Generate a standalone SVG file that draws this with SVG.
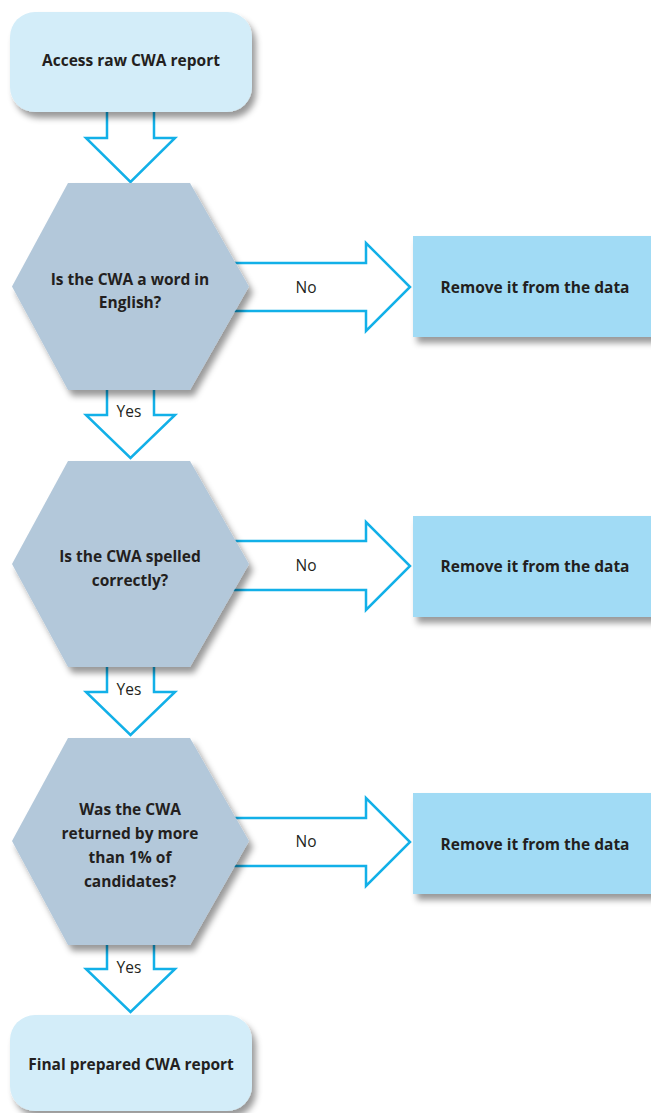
<svg xmlns="http://www.w3.org/2000/svg" width="651" height="1113" viewBox="0 0 651 1113">
<defs>
<filter id="sh" x="-10%" y="-10%" width="130%" height="130%">
<feDropShadow dx="4" dy="6" stdDeviation="3" flood-color="#000" flood-opacity="0.4"/>
</filter>
<style>
.arr{fill:#fff;stroke:#12b0e8;stroke-width:2.5;stroke-linejoin:miter}
.start{fill:#d3edf9;filter:url(#sh)}
.hex{fill:#b3c8da;filter:url(#sh)}
.rem{fill:#a1dbf5;filter:url(#sh)}
.t{font-family:"Open Sans","Noto Sans",sans-serif;font-weight:bold;font-size:15.5px;fill:#231f20;text-anchor:middle}
.l{font-family:"Open Sans","Noto Sans",sans-serif;font-size:15.5px;fill:#231f20;text-anchor:middle}
</style>
</defs>
<rect width="651" height="1113" fill="#fff"/>
<g id="connectors">
<path class="arr" d="M107,100 V138 H86 L130.5,182 L175,138 H154 V100"/>
<path class="arr" d="M107,380 V415 H86 L130.5,458 L175,415 H154 V380"/>
<path class="arr" d="M107,657 V692 H86 L130.5,735 L175,692 H154 V657"/>
<path class="arr" d="M107,935 V969 H86 L130.5,1012 L175,969 H154 V935"/>
<path class="arr" d="M225,263 H366 V243 L410,287 L366,331 V311 H225"/>
<path class="arr" d="M225,541 H366 V522 L410,566 L366,610 V590 H225"/>
<path class="arr" d="M225,818 H366 V798 L410,842 L366,886 V866 H225"/>
<text class="l" x="306" y="293">No</text>
<text class="l" x="306" y="571">No</text>
<text class="l" x="306" y="847">No</text>
<text class="l" x="129" y="417">Yes</text>
<text class="l" x="129" y="695">Yes</text>
<text class="l" x="129" y="973">Yes</text>
</g>
<g id="start">
<rect class="start" x="10" y="12" width="242" height="100" rx="25"/>
<text class="t" x="131" y="66">Access raw CWA report</text>
</g>
<g id="q1">
<polygon class="hex" points="68,183 190,183 249,286.5 190,390 68,390 12,286.5"/>
<text class="t" x="130" y="285">Is the CWA a word in</text>
<text class="t" x="130" y="308">English?</text>
</g>
<g id="r1">
<rect class="rem" x="413" y="236" width="250" height="101"/>
<text class="t" x="535" y="293">Remove it from the data</text>
</g>
<g id="q2">
<polygon class="hex" points="68,461 190,461 249,564 190,667 68,667 12,564"/>
<text class="t" x="130" y="562">Is the CWA spelled</text>
<text class="t" x="130" y="586">correctly?</text>
</g>
<g id="r2">
<rect class="rem" x="413" y="516" width="250" height="101"/>
<text class="t" x="535" y="572">Remove it from the data</text>
</g>
<g id="q3">
<polygon class="hex" points="68,738 190,738 249,841 190,945 68,945 12,841"/>
<text class="t" x="130" y="815">Was the CWA</text>
<text class="t" x="130" y="839">returned by more</text>
<text class="t" x="130" y="863">than 1% of</text>
<text class="t" x="130" y="887">candidates?</text>
</g>
<g id="r3">
<rect class="rem" x="413" y="793" width="250" height="101"/>
<text class="t" x="535" y="850">Remove it from the data</text>
</g>
<g id="end">
<rect class="start" x="10" y="1015" width="242" height="96" rx="25"/>
<text class="t" x="131" y="1070">Final prepared CWA report</text>
</g>
</svg>
